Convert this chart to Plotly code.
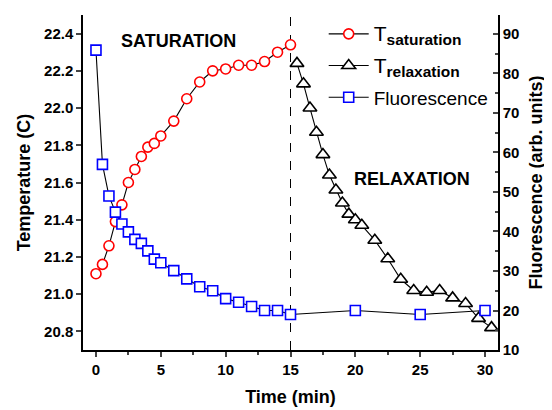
import plotly.graph_objects as go

# Data
t_sat = [0, 0.5, 1, 1.5, 2, 2.5, 3, 3.5, 4, 4.5, 5, 6, 7, 8, 9, 10, 11, 12, 13, 14, 15]
T_sat = [21.11, 21.16, 21.26, 21.39, 21.48, 21.60, 21.67, 21.74, 21.79, 21.81, 21.85,
         21.93, 22.05, 22.14, 22.20, 22.21, 22.23, 22.23, 22.25, 22.30, 22.34]

t_rel = [15.5, 16, 16.5, 17, 17.5, 18, 18.5, 19, 19.5, 20, 20.5, 21.5, 22.5, 23.5,
         24.5, 25.5, 26.5, 27.5, 28.5, 29.5, 30.5]
T_rel = [22.24, 22.13, 22.00, 21.87, 21.75, 21.64, 21.56, 21.49, 21.43, 21.40, 21.37,
         21.29, 21.19, 21.08, 21.02, 21.01, 21.02, 20.98, 20.95, 20.87, 20.82]

t_fl = [0, 0.5, 1, 1.5, 2, 2.5, 3, 3.5, 4, 4.5, 5, 6, 7, 8, 9, 10, 11, 12, 13, 14, 15, 20, 25, 30]
F_fl = [85.9, 57.0, 49.0, 44.9, 41.9, 39.9, 38.0, 37.0, 35.1, 33.0, 32.1, 30.1, 28.0,
        26.0, 25.0, 23.0, 22.1, 21.0, 20.0, 20.0, 19.0, 20.0, 19.0, 20.0]

x_ticks = [0, 5, 10, 15, 20, 25, 30]
switch_time = 15

FONT = "Liberation Sans, Arial, sans-serif"
BOLD = dict(family=FONT, size=15, color="black", weight="bold")
TITLE = dict(family=FONT, size=18, color="black", weight="bold")

fig = go.Figure()

fig.add_trace(go.Scatter(
    x=t_sat, y=T_sat, mode="lines+markers", legendgroup="a",
    name='<span style="font-size:21px">T</span><sub><span style="font-size:15.5px;font-weight:bold">saturation</span></sub>',
    line=dict(color="black", width=1.1),
    marker=dict(symbol="circle", size=10, color="white", line=dict(color="red", width=1.6)),
))
fig.add_trace(go.Scatter(
    x=t_rel, y=T_rel, mode="lines+markers", legendgroup="b",
    name='<span style="font-size:21px">T</span><sub><span style="font-size:15.5px;font-weight:bold">relaxation</span></sub>',
    line=dict(color="black", width=1.1),
    marker=dict(symbol="triangle-up", size=12, color="white", line=dict(color="black", width=1.6)),
))
fig.add_trace(go.Scatter(
    x=t_fl, y=F_fl, mode="lines+markers", yaxis="y2", legendgroup="c",
    name="Fluorescence",
    line=dict(color="black", width=1.1),
    marker=dict(symbol="square", size=10, color="white", line=dict(color="blue", width=1.6)),
))

fig.add_shape(type="line", xref="x", yref="paper", x0=switch_time, x1=switch_time,
              y0=0, y1=1, line=dict(color="black", width=1, dash="dash"), layer="below")

fig.add_annotation(x=6.33, y=22.36, xref="x", yref="y", text="SATURATION", showarrow=False,
                   font=dict(family=FONT, size=18, color="black", weight="bold"))
fig.add_annotation(x=24.33, y=21.62, xref="x", yref="y", text="RELAXATION", showarrow=False,
                   font=dict(family=FONT, size=18, color="black", weight="bold"))

# The page body adds an 8px offset; margins compensate so the plot area lands at 83..498 x 15..350
fig.update_layout(
    width=552, height=410,
    margin=dict(l=75, r=62, t=7, b=68),
    paper_bgcolor="white", plot_bgcolor="white",
    font=dict(family=FONT, color="black"),
    showlegend=True,
    legend=dict(x=0.58, y=1.0, xanchor="left", yanchor="top",
                bgcolor="rgba(0,0,0,0)", borderwidth=0,
                font=dict(family=FONT, size=19, color="black"),
                itemwidth=40, tracegroupgap=4),
    xaxis=dict(range=[-1, 31], tickvals=x_ticks, ticks="outside", ticklen=5, tickwidth=1.5,
               minor=dict(dtick=2.5, ticks="outside", ticklen=3, tickwidth=1.5),
               showline=True, linewidth=1.5, linecolor="black", mirror=False,
               showgrid=False, zeroline=False, tickfont=BOLD,
               title=dict(text="Time (min)", font=TITLE, standoff=14)),
    xaxis2=dict(range=[-1, 31], overlaying="x", side="top", anchor="y", dtick=2.5, tick0=0,
                ticks="inside", ticklen=5, tickwidth=1.5, showticklabels=False,
                showline=True, linewidth=1.5, linecolor="black", showgrid=False, zeroline=False),
    yaxis=dict(range=[20.7, 22.5], dtick=0.2, tick0=20.8, tickformat=".1f", ticks="outside",
               ticklen=5, tickwidth=1.5, showline=True, linewidth=1.5, linecolor="black",
               showgrid=False, zeroline=False, tickfont=BOLD,
               title=dict(text="Temperature (C)", font=TITLE, standoff=9)),
    yaxis2=dict(range=[10, 94.8], dtick=10, tick0=10, overlaying="y", side="right", anchor="x",
                ticks="inside", ticklen=5, tickwidth=1.5,
                minor=dict(dtick=5, ticks="inside", ticklen=3, tickwidth=1.5),
                showline=True, linewidth=1.5, linecolor="black",
                showgrid=False, zeroline=False, tickfont=BOLD,
                title=dict(text="Fluorescence (arb. units)", font=TITLE, standoff=11)),
)

fig.write_html("out.html")
